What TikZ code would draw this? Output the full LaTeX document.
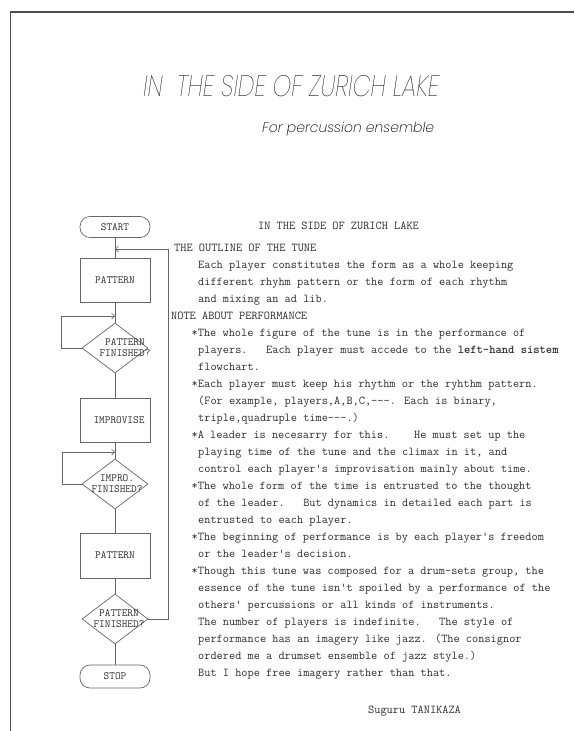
\documentclass[tikz,border=0pt]{standalone}
\usepackage{fontspec}
\usepackage{graphicx}
\usetikzlibrary{arrows.meta,shapes.geometric}
\IfFontExistsTF{FiraSans-ThinItalic.otf}
  {\newfontfamily\titlefont{FiraSans-ThinItalic.otf}}
  {\IfFontExistsTF{Poppins Thin Italic}
     {\newfontfamily\titlefont{Poppins Thin Italic}}
     {\newfontfamily\titlefont{Liberation Sans Italic}}}
\IfFontExistsTF{Poppins ExtraLight Italic}
  {\newfontfamily\subtitlefont{Poppins ExtraLight Italic}}
  {\let\subtitlefont\titlefont}
\definecolor{ink}{gray}{0.18}
\definecolor{rulegray}{gray}{0.4}
\newcommand\twfont{\ttfamily\fontsize{12}{14}\selectfont}
\newcommand\fwfont{\ttfamily\fontsize{11}{11}\selectfont}
\tikzset{
  tl/.style={anchor=base west, font=\twfont, text=ink, inner sep=0pt},
  fl/.style={draw=rulegray, line width=0.7pt},
  procbox/.style={fl, rectangle, minimum width=70pt, minimum height=44pt, inner sep=0pt, font=\fwfont, text=ink},
  termbox/.style={fl, rectangle, rounded corners=10pt, minimum width=70pt, minimum height=21pt, inner sep=0pt, font=\fwfont, text=ink},
  decbox/.style={fl, diamond, minimum width=66pt, minimum height=50pt, inner sep=0pt},
  declabel/.style={font=\fwfont, text=ink, align=center, inner sep=0pt},
  arr/.style={fl, -{Straight Barb[length=3pt,width=6pt]}}
}
\begin{document}
\begin{tikzpicture}[x=1pt,y=-1pt]
\useasboundingbox (0,0) rectangle (574,731);
% page frame
\draw[line width=1.2pt, black!70] (574,12) -- (10.5,12) -- (10.5,731);
% titles
\node[anchor=south west, inner sep=0pt] (title) at (143,97)
  {\resizebox{296pt}{21pt}{\titlefont IN\ \ THE SIDE OF ZURICH LAKE}};
\node[anchor=base west, inner sep=0pt] (subtitle) at (262,132)
  {\resizebox{172pt}{!}{\subtitlefont For percussion ensemble}};
% flowchart
\node[termbox] (start) at (115,227) {START};
\node[procbox] (p1) at (115,280) {PATTERN};
\node[decbox] (d1) at (115,348) {};
\node[declabel] (d1t) at (125,348) {PATTERN\\FINISHED?};
\node[procbox] (imp) at (115,420) {\hspace*{8pt}IMPROVISE};
\node[decbox] (d2) at (115,484) {};
\node[declabel] (d2t) at (117,484) {IMPRO.\\FINISHED?};
\node[procbox, minimum height=45pt] (p2) at (115,555.5) {PATTERN};
\node[decbox] (d3) at (115,619) {};
\node[declabel] (d3t) at (119,619) {PATTERN\\FINISHED?};
\node[termbox, minimum height=23pt] (stop) at (115,676.5) {STOP};
\coordinate (j1) at (115,316);
\coordinate (j2) at (115,452);
\coordinate (j3) at (115,249);
\draw[fl] (start) -- (p1);
\draw[fl] (p1) -- (d1);
\draw[fl] (d1) -- (imp);
\draw[fl] (imp) -- (d2);
\draw[fl] (d2) -- (p2);
\draw[fl] (p2) -- (d3);
\draw[fl] (d3) -- (stop);
\draw[arr] (d1.west) -- (61,348) |- (j1);
\draw[arr] (d2.west) -- (62,484) |- (j2);
\draw[arr] (d3.east) -- (168,619) |- (j3);
% notes
\node[tl] (head) at (258,229) {IN THE SIDE OF ZURICH LAKE};
\node[tl] (l0) at (174,251) {THE OUTLINE OF THE TUNE};
\node[tl] (l1) at (198,268) {Each player constitutes the form as a whole keeping};
\node[tl] (l2) at (198,285) {different rhyhm pattern or the form of each rhythm};
\node[tl] (l3) at (198,302) {and mixing an ad lib.};
\node[tl] (l4) at (171,319) {NOTE ABOUT PERFORMANCE};
\node[tl] (l5) at (191.5,336) {*The whole figure of the tune is in the performance of};
\node[tl] (l6) at (198,353) {players.~~~Each player must accede to the \textbf{left-hand sistem}};
\node[tl] (l7) at (198,370) {flowchart.};
\node[tl] (l8) at (191.5,387) {*Each player must keep his rhythm or the ryhthm pattern.};
\node[tl] (l9) at (198,404) {(For example, players,A,B,C,---. Each is binary,};
\node[tl] (l10) at (198,421) {triple,quadruple time---.)};
\node[tl] (l11) at (191.5,438) {*A leader is necesarry for this.~~~~He must set up the};
\node[tl] (l12) at (198,455) {playing time of the tune and the climax in it, and};
\node[tl] (l13) at (198,472) {control each player's improvisation mainly about time.};
\node[tl] (l14) at (191.5,489) {*The whole form of the time is entrusted to the thought};
\node[tl] (l15) at (198,506) {of the leader.~~~But dynamics in detailed each part is};
\node[tl] (l16) at (198,523) {entrusted to each player.};
\node[tl] (l17) at (191.5,540) {*The beginning of performance is by each player's freedom};
\node[tl] (l18) at (198,557) {or the leader's decision.};
\node[tl] (l19) at (191.5,574) {*Though this tune was composed for a drum-sets group, the};
\node[tl] (l20) at (198,591) {essence of the tune isn't spoiled by a performance of the};
\node[tl] (l21) at (198,608) {others' percussions or all kinds of instruments.};
\node[tl] (l22) at (198,625) {The number of players is indefinite.~~~The style of};
\node[tl] (l23) at (198,642) {performance has an imagery like jazz. (The consignor};
\node[tl] (l24) at (198,659) {ordered me a drumset ensemble of jazz style.)};
\node[tl] (l25) at (198,676) {But I hope free imagery rather than that.};
\node[tl] (sig) at (368,713) {Suguru TANIKAZA};
\end{tikzpicture}
\end{document}
